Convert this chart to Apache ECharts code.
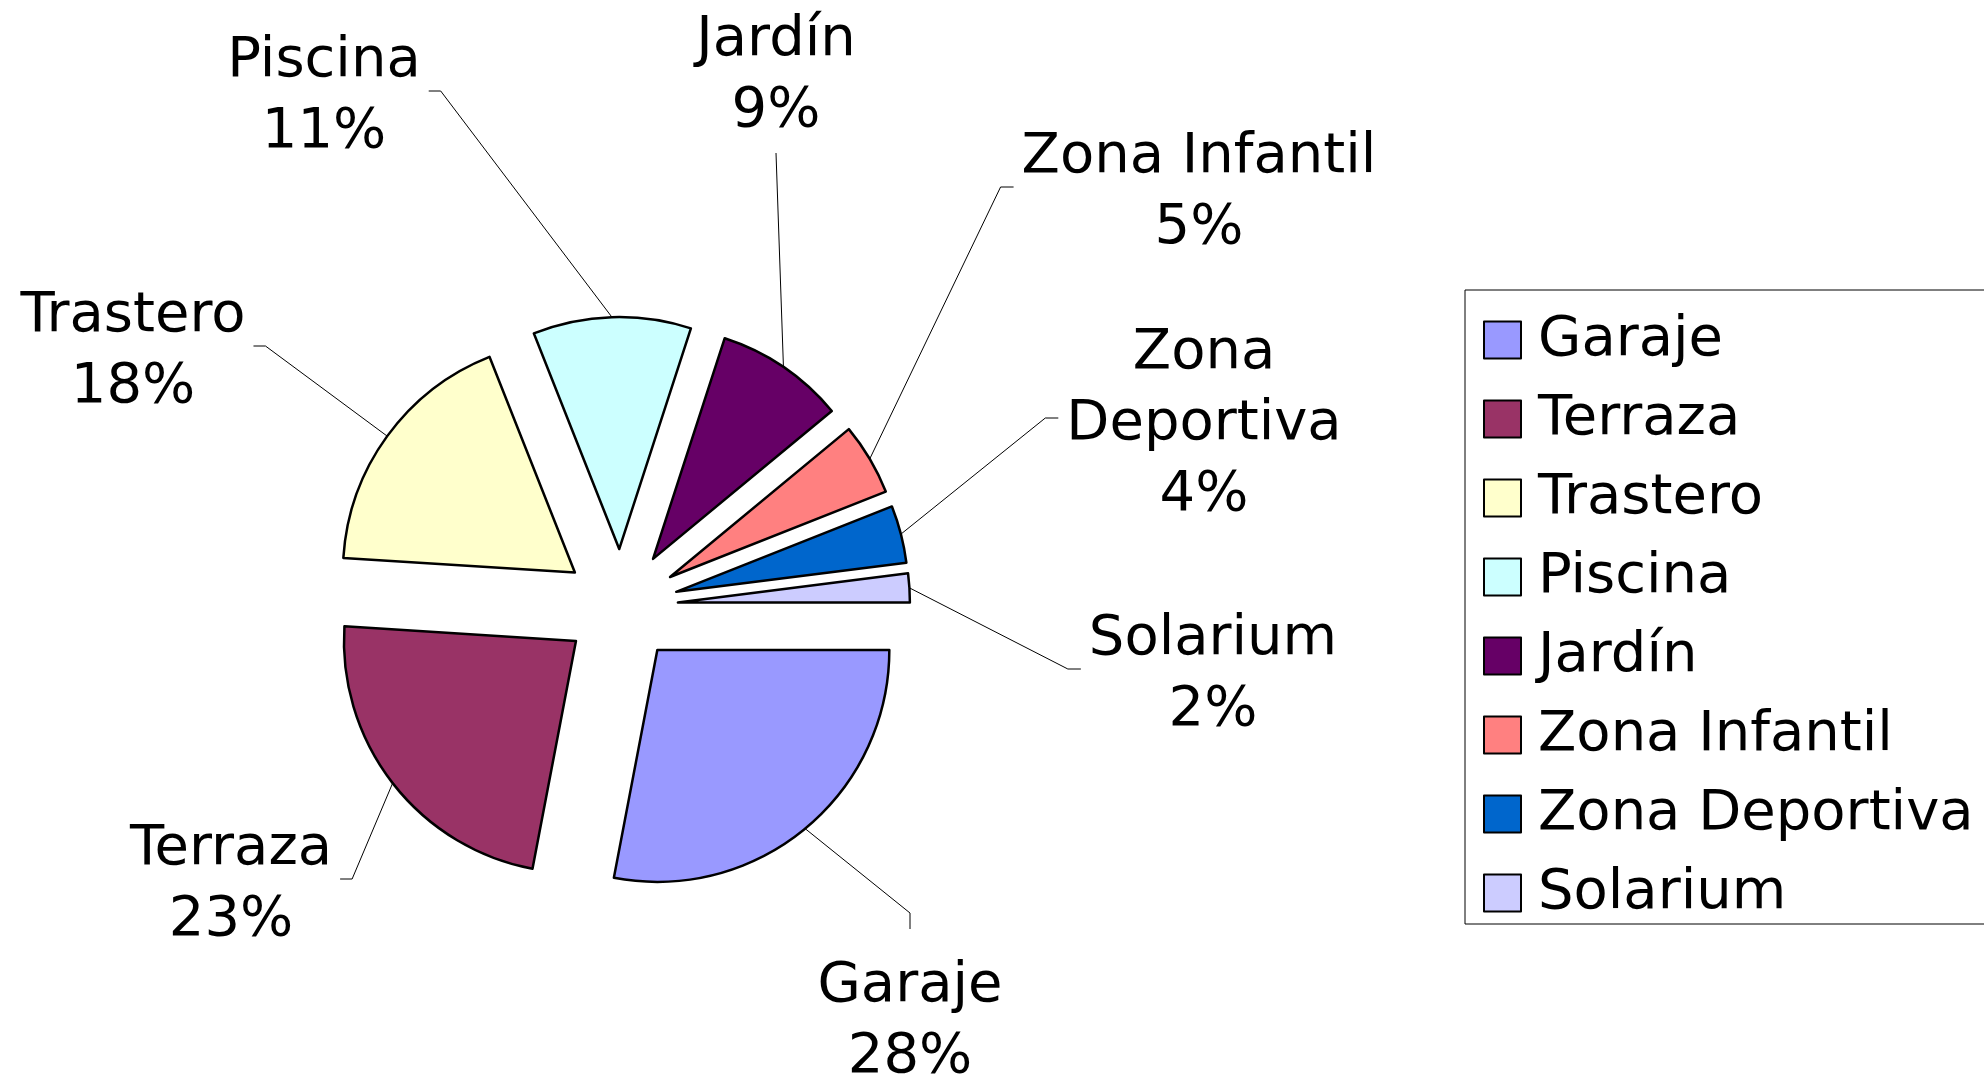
<!DOCTYPE html>
<html>
<head>
<meta charset="utf-8">
<script src="https://cdn.jsdelivr.net/npm/echarts@6/dist/echarts.min.js"></script>
<style>
  html, body { margin: 0; padding: 0; background: #fff; }
  #chart { width: 1984px; height: 1078px; }
</style>
</head>
<body>
<div id="chart"></div>
<script>
  var categories = ['Garaje', 'Terraza', 'Trastero', 'Piscina', 'Jardín', 'Zona Infantil', 'Zona Deportiva', 'Solarium'];
  var shares = [28, 23, 18, 11, 9, 5, 4, 2];
  var colors = ['#9999FF', '#993366', '#FFFFCC', '#CCFFFF', '#660066', '#FF8080', '#0066CC', '#CCCCFF'];

  // where each label sits (centre) and from which side its leader line comes in
  var labelPos = [[910, 1022], [231, 885], [133, 352], [324, 97], [776, 76], [1199, 193], [1204, 424], [1213, 675]];
  var lineSide = ['top', 'right', 'right', 'right', 'bottom', 'left', 'left', 'left'];

  var pieCenter = [621, 606];
  var pieRadius = 232;
  var explode = 57;

  var chart = echarts.init(document.getElementById('chart'));

  var labelFont = {
    fontFamily: 'DejaVu Sans',
    fontSize: 56,
    lineHeight: 71,
    color: '#000'
  };

  var option = {
    animation: false,
    backgroundColor: '#fff',
    legend: {
      orient: 'vertical',
      left: 1465,
      top: 290,
      padding: [20, 60, 1, 18],
      borderColor: '#000',
      borderWidth: 1,
      itemWidth: 37,
      itemHeight: 37,
      itemGap: 19,
      icon: 'rect',
      selectedMode: false,
      itemStyle: { borderColor: '#000', borderWidth: 2 },
      textStyle: {
        fontFamily: 'DejaVu Sans',
        fontSize: 56,
        lineHeight: 60,
        color: '#000',
        padding: [0, 0, 0, 12]
      },
      data: categories
    },
    series: [{
      // the exploded slices
      type: 'pie',
      center: pieCenter,
      radius: pieRadius,
      startAngle: 0,
      clockwise: true,
      selectedMode: 'multiple',
      selectedOffset: explode,
      emphasis: { disabled: true },
      itemStyle: { borderColor: '#000', borderWidth: 2.5 },
      label: { show: false },
      labelLine: { show: false },
      data: categories.map(function (name, i) {
        return { name: name, value: shares[i], selected: true, itemStyle: { color: colors[i] } };
      })
    }, {
      // invisible ring at the exploded outer edge, carries the labels
      type: 'pie',
      center: pieCenter,
      radius: pieRadius + explode,
      startAngle: 0,
      clockwise: true,
      silent: true,
      avoidLabelOverlap: false,
      emphasis: { disabled: true },
      itemStyle: { color: 'rgba(0,0,0,0)', borderWidth: 0 },
      label: Object.assign({
        show: true,
        position: 'outside',
        align: 'center',
        formatter: function (p) {
          var name = p.name === 'Zona Deportiva' ? 'Zona\nDeportiva' : p.name;
          return name + '\n' + Math.round(p.percent) + '%';
        }
      }, labelFont),
      labelLine: {
        show: true,
        length: 20,
        length2: 10,
        lineStyle: { color: '#000', width: 1 }
      },
      labelLayout: function (params) {
        var i = params.dataIndex;
        var cx = labelPos[i][0], cy = labelPos[i][1];
        var w = params.labelRect.width, h = params.labelRect.height;
        var start = params.labelLinePoints ? params.labelLinePoints[0] : [cx, cy];
        var pts;
        if (lineSide[i] === 'right') {
          var ex = cx + w / 2 + 8;
          pts = [start, [ex + 12, cy - 6], [ex, cy - 6]];
        } else if (lineSide[i] === 'left') {
          var lx = cx - w / 2 - 8;
          pts = [start, [lx - 13, cy - 6], [lx, cy - 6]];
        } else if (lineSide[i] === 'top') {
          var ty = cy - h / 2 - 22;
          pts = [start, [cx, ty - 16], [cx, ty]];
        } else {
          var by = cy + h / 2 + 6;
          pts = [start, [cx, by], [cx, by]];
        }
        return {
          x: cx,
          y: cy,
          align: 'center',
          verticalAlign: 'middle',
          labelLinePoints: pts
        };
      },
      data: categories.map(function (name, i) {
        return { name: name, value: shares[i] };
      })
    }]
  };

  chart.setOption(option);
</script>
</body>
</html>
